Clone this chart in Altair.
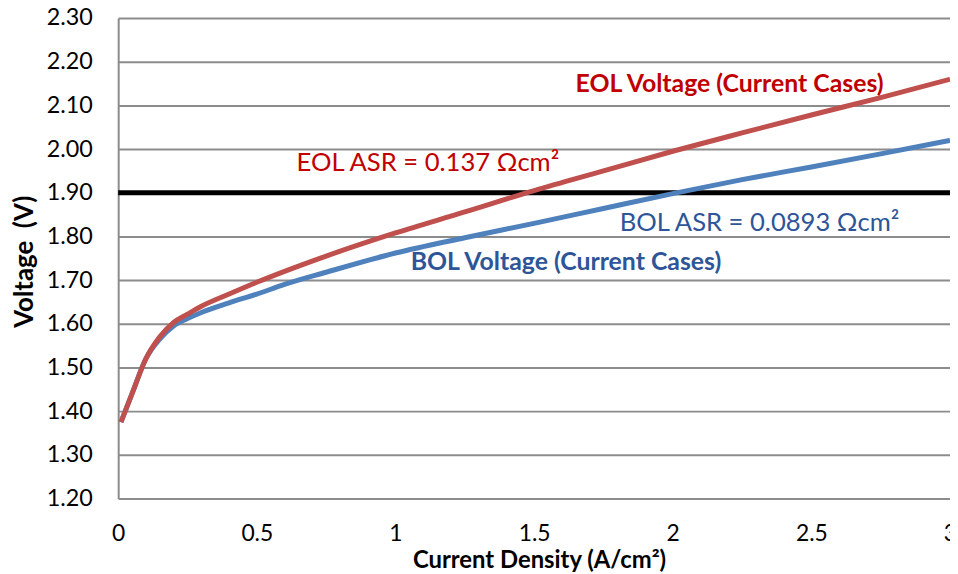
import altair as alt
import pandas as pd

current = [0.01, 0.05, 0.10, 0.15, 0.20, 0.25, 0.30, 0.40, 0.50, 0.60, 0.75,
           1.00, 1.25, 1.50, 1.75, 2.00, 2.25, 2.50, 2.75, 3.00]
bol_v = [1.375, 1.44, 1.52, 1.565, 1.595, 1.612, 1.626, 1.648, 1.668, 1.69, 1.718,
         1.762, 1.797, 1.830, 1.864, 1.898, 1.930, 1.959, 1.989, 2.020]
eol_v = [1.375, 1.44, 1.52, 1.570, 1.603, 1.622, 1.640, 1.668, 1.695, 1.720, 1.755,
         1.808, 1.856, 1.905, 1.950, 1.995, 2.037, 2.078, 2.118, 2.160]
limit_v = 1.90
y_ticks = [1.2, 1.3, 1.4, 1.5, 1.6, 1.7, 1.8, 1.9, 2.0, 2.1, 2.2, 2.3]
x_ticks = [0, 0.5, 1, 1.5, 2, 2.5, 3]

ann_text = ["EOL Voltage (Current Cases)", "EOL ASR = 0.137 Ωcm²",
            "BOL ASR = 0.0893 Ωcm²", "BOL Voltage (Current Cases)"]
ann_x = [2.205, 1.117, 2.313, 1.615]
ann_y = [2.148, 1.968, 1.830, 1.741]
ann_color = ["#C00000", "#C00000", "#2E5597", "#2E5597"]
ann_weight = ["bold", "normal", "normal", "bold"]

FONT = "Lato"

df = pd.DataFrame({
    "x": current * 2,
    "v": bol_v + eol_v,
    "series": ["BOL"] * len(current) + ["EOL"] * len(current),
})
ann = pd.DataFrame({"t": ann_text, "x": ann_x, "y": ann_y, "c": ann_color, "w": ann_weight})

xs = alt.Scale(domain=[0, 3], nice=False)
ys = alt.Scale(domain=[1.2, 2.3], nice=False, zero=False)

x_axis = alt.Axis(values=x_ticks, format="~g", title="Current Density (A/cm²)", grid=False, ticks=False,
                  domain=False, labelFontSize=23, labelFont=FONT, labelColor="#000",
                  labelPadding=24, labelFlush=False, labelOverlap=False,
                  titleFont=FONT, titleFontSize=24, titleFontWeight="bold", titleColor="#000",
                  titleX=424, titleY=63, titleBaseline="middle", titleAlign="center")
y_axis = alt.Axis(values=y_ticks, format=".2f", title="Voltage\u00a0\u00a0(V)", grid=True,
                  gridColor="#8c8c8c", gridWidth=2, gridOpacity=1,
                  ticks=False, domain=True, domainColor="#8c8c8c", domainWidth=2,
                  labelFontSize=23.5, labelFont=FONT, labelColor="#000", labelPadding=26,
                  titleFont=FONT, titleFontSize=26, titleFontWeight="bold", titleColor="#000",
                  titleAngle=270, titleX=-94, titleY=245, titleBaseline="middle", titleAlign="center")

lines = alt.Chart(df).mark_line(strokeWidth=5, interpolate="monotone").encode(
    x=alt.X("x:Q", scale=xs, axis=x_axis),
    y=alt.Y("v:Q", scale=ys, axis=y_axis),
    color=alt.Color("series:N", scale=alt.Scale(domain=["BOL", "EOL"], range=["#4F81BD", "#C0504D"]), legend=None),
    order=alt.Order("series:N"),
    detail="series:N",
)

limit = alt.Chart(pd.DataFrame({"y": [limit_v], "x0": [0], "x1": [3]})).mark_rule(
    color="#000", strokeWidth=5).encode(
    y=alt.Y("y:Q", scale=ys), x=alt.X("x0:Q", scale=xs), x2="x1:Q")

bold_ann = alt.Chart(ann[ann.w == "bold"]).mark_text(font=FONT, fontSize=25, fontWeight="bold").encode(
    x=alt.X("x:Q", scale=xs), y=alt.Y("y:Q", scale=ys), text="t:N",
    color=alt.Color("c:N", scale=None))
norm_ann = alt.Chart(ann[ann.w == "normal"]).mark_text(font=FONT, fontSize=25.8).encode(
    x=alt.X("x:Q", scale=xs), y=alt.Y("y:Q", scale=ys), text="t:N",
    color=alt.Color("c:N", scale=None))

chart = alt.layer(limit, lines, bold_ann, norm_ann).properties(
    width=838, height=484,
    autosize=alt.AutoSizeParams(type="none"),
    padding={"left": 111, "top": 8, "right": 0, "bottom": 80},
).configure_view(stroke=None).configure(background="white")

chart.save("out.html", embed_options={"renderer": "svg", "actions": False})
